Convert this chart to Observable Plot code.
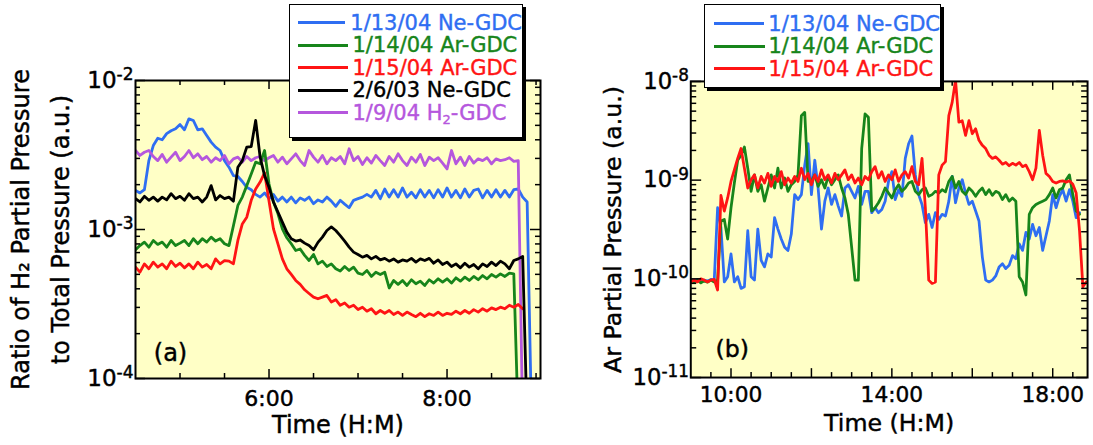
<!DOCTYPE html>
<html><head><meta charset="utf-8">
<script src="https://cdn.jsdelivr.net/npm/d3@7"></script>
<script src="https://cdn.jsdelivr.net/npm/@observablehq/plot@0.6"></script>
<style>
html,body{margin:0;padding:0;background:#fff;}
#wrap{position:relative;width:1093px;height:445px;overflow:hidden;font-family:"DejaVu Sans",sans-serif;}
#pa{position:absolute;left:0;top:0;}
#pb{position:absolute;left:560px;top:0;}
#wrap svg text{stroke:currentColor;stroke-width:0.45px;}
.legend{position:absolute;background:#fff;border:1.5px solid #000;box-shadow:3px 3px 0 #000;box-sizing:border-box;}
.row{display:flex;align-items:center;height:22.5px;font-size:21px;white-space:nowrap;-webkit-text-stroke:0.4px currentColor;}
.sw{height:3px;}
.legend sub{font-size:13px;line-height:0;vertical-align:-4px;}
</style></head><body>
<div id="wrap"><div id="pa"></div><div id="pb"></div><div id="la" class="legend"></div><div id="lb" class="legend"></div></div>
<script>
// ---------- Panel (a): H2 / total pressure ratio, times in minutes after midnight ----------
const timeA = [
270,273,276,279,282,285,288,291,294,297,
300,303,306,309,312,315,318,321,324,327,
330,333,336,339,342,345,348,351,354,357,
360,363,366,369,372,375,378,381,384,387,
390,393,396,399,402,405,408,411,414,417,
420,423,426,429,432,435,438,441,444,447,
450,453,456,459,462,465,468,471,474,477,
480,483,486,489,492,495,498,501,504,507,
510,513,516,519,522,525,528,531,534,537,
540];
const ne0113A = [
1.83e-3,1.76e-3,1.85e-3,2.90e-3,3.66e-3,4.10e-3,4.00e-3,4.40e-3,4.60e-3,4.74e-3,
5.06e-3,4.67e-3,5.53e-3,5.39e-3,4.67e-3,4.74e-3,4.27e-3,3.86e-3,3.57e-3,3.39e-3,
2.90e-3,2.62e-3,2.30e-3,2.27e-3,2.10e-3,1.92e-3,1.85e-3,1.72e-3,1.65e-3,1.76e-3,
1.61e-3,1.72e-3,1.55e-3,1.65e-3,1.53e-3,1.65e-3,1.51e-3,1.63e-3,1.57e-3,1.65e-3,
1.49e-3,1.58e-3,1.53e-3,1.65e-3,1.55e-3,1.43e-3,1.57e-3,1.48e-3,1.40e-3,1.57e-3,
1.61e-3,1.65e-3,1.72e-3,1.65e-3,1.83e-3,1.61e-3,1.87e-3,1.65e-3,1.85e-3,1.65e-3,
1.90e-3,1.65e-3,1.78e-3,1.63e-3,1.85e-3,1.65e-3,1.83e-3,1.63e-3,1.85e-3,1.65e-3,
1.90e-3,1.65e-3,1.83e-3,1.63e-3,1.87e-3,1.65e-3,1.83e-3,1.87e-3,1.63e-3,1.83e-3,
1.65e-3,1.85e-3,1.65e-3,1.83e-3,1.65e-3,1.85e-3,1.87e-3,1.65e-3,1.53e-3,5e-5];
const ar0114A = [
7.3e-4,7.8e-4,8.23e-4,7.61e-4,8.44e-4,7.94e-4,8.23e-4,7.61e-4,8.44e-4,7.8e-4,
8.1e-4,8.44e-4,7.8e-4,8.67e-4,8.02e-4,8.67e-4,8.23e-4,8.89e-4,8.36e-4,8.67e-4,
8.02e-4,7.8e-4,1.06e-3,1.45e-3,1.65e-3,1.97e-3,2.36e-3,2.83e-3,2.76e-3,3.39e-3,
2.02e-3,1.53e-3,1.28e-3,1.01e-3,8.8e-4,8.02e-4,7.23e-4,7.4e-4,6.7e-4,6.19e-4,
6.8e-4,5.88e-4,6.13e-4,5.65e-4,5.88e-4,5.45e-4,5.26e-4,5.65e-4,5.31e-4,5.59e-4,
5.09e-4,4.99e-4,5.31e-4,4.84e-4,5.17e-4,4.99e-4,5.17e-4,4.05e-4,4.55e-4,4.28e-4,
4.55e-4,4.21e-4,4.6e-4,4.32e-4,4.5e-4,4.21e-4,4.6e-4,4.37e-4,4.67e-4,4.43e-4,
4.67e-4,4.37e-4,4.74e-4,4.5e-4,4.79e-4,4.55e-4,4.84e-4,4.6e-4,4.91e-4,4.67e-4,
4.99e-4,4.79e-4,5.04e-4,4.84e-4,5.09e-4,5.04e-4,5e-5];
const ar0115A = [
5.59e-4,5.17e-4,5.88e-4,5.45e-4,6.04e-4,5.59e-4,5.88e-4,5.45e-4,6.13e-4,5.65e-4,
5.94e-4,5.53e-4,5.88e-4,5.45e-4,6.04e-4,5.59e-4,5.82e-4,5.45e-4,6.35e-4,5.88e-4,
6.19e-4,6.13e-4,5.88e-4,8.44e-4,1.09e-3,1.21e-3,1.57e-3,1.87e-3,2.08e-3,2.40e-3,
1.55e-3,1.01e-3,8.02e-4,6.35e-4,5.45e-4,4.99e-4,4.55e-4,4.28e-4,3.94e-4,3.72e-4,
3.52e-4,3.43e-4,3.52e-4,3.61e-4,3.26e-4,3.38e-4,3.1e-4,3.21e-4,3.01e-4,3.1e-4,
2.9e-4,3.01e-4,2.83e-4,2.94e-4,2.72e-4,2.86e-4,2.74e-4,2.86e-4,2.69e-4,2.79e-4,
2.65e-4,2.79e-4,2.69e-4,2.6e-4,2.74e-4,2.6e-4,2.72e-4,2.65e-4,2.79e-4,2.65e-4,
2.74e-4,2.69e-4,2.83e-4,2.72e-4,2.86e-4,2.74e-4,2.9e-4,2.79e-4,2.94e-4,2.83e-4,
2.98e-4,2.9e-4,3.01e-4,2.94e-4,3.1e-4,3.01e-4,3.14e-4,2.94e-4];
const ne0206A = [
1.61e-3,1.53e-3,1.67e-3,1.57e-3,1.65e-3,1.55e-3,1.65e-3,1.58e-3,1.74e-3,1.61e-3,
1.67e-3,1.57e-3,1.74e-3,1.61e-3,1.65e-3,1.53e-3,1.65e-3,1.97e-3,1.58e-3,1.69e-3,
1.61e-3,1.65e-3,1.55e-3,2.62e-3,2.90e-3,3.57e-3,3.60e-3,5.40e-3,3.06e-3,2.30e-3,
1.92e-3,1.53e-3,1.31e-3,1.12e-3,9.6e-4,8.67e-4,8.36e-4,8.5e-4,8.1e-4,7.8e-4,
7.3e-4,8.2e-4,8.89e-4,9.85e-4,1.04e-3,9.85e-4,9.1e-4,8.36e-4,7.61e-4,7.05e-4,
6.8e-4,6.52e-4,6.7e-4,6.35e-4,6.6e-4,6.25e-4,6.4e-4,6.13e-4,6.35e-4,6.04e-4,
6.25e-4,6.13e-4,6.4e-4,6.04e-4,6.35e-4,6.19e-4,6.4e-4,5.94e-4,6.25e-4,5.82e-4,
6.04e-4,5.65e-4,5.88e-4,5.53e-4,5.94e-4,5.59e-4,5.82e-4,5.45e-4,5.88e-4,5.65e-4,
6.04e-4,5.73e-4,6.13e-4,5.88e-4,5.45e-4,6.19e-4,6.35e-4,6.6e-4,5e-5];
const h2A = [
3.39e-3,3.14e-3,3.30e-3,3.39e-3,3.09e-3,2.90e-3,3.19e-3,2.83e-3,3.06e-3,3.30e-3,
2.90e-3,3.09e-3,3.39e-3,3.03e-3,3.22e-3,2.94e-3,3.09e-3,2.83e-3,3.03e-3,2.90e-3,
3.14e-3,2.76e-3,2.98e-3,3.06e-3,2.83e-3,3.09e-3,2.90e-3,3.03e-3,3.09e-3,2.90e-3,
3.03e-3,3.14e-3,2.83e-3,3.06e-3,2.76e-3,2.98e-3,3.22e-3,2.90e-3,2.69e-3,3.39e-3,
3.06e-3,2.83e-3,3.14e-3,2.76e-3,3.03e-3,2.90e-3,3.09e-3,2.76e-3,3.48e-3,2.90e-3,
3.09e-3,2.73e-3,3.03e-3,2.79e-3,3.14e-3,2.90e-3,2.69e-3,3.09e-3,2.83e-3,3.22e-3,
2.90e-3,2.69e-3,3.06e-3,2.83e-3,3.19e-3,2.69e-3,3.06e-3,2.90e-3,3.03e-3,2.79e-3,
2.55e-3,3.39e-3,2.76e-3,3.06e-3,2.69e-3,3.09e-3,2.79e-3,2.98e-3,2.90e-3,3.03e-3,
2.76e-3,2.98e-3,2.90e-3,2.94e-3,3.03e-3,2.87e-3,2.90e-3,5e-5];
const namesA = ["1/13/04 Ne-GDC","1/14/04 Ar-GDC","1/15/04 Ar-GDC","2/6/03 Ne-GDC","1/9/04 H<sub>2</sub>-GDC"];
const xTickLabelsA = [360, 480];
const xMinorA = [300, 330, 390, 420, 450, 510, 540];
const yTicksA = [1e-4, 1e-3, 1e-2];

// ---------- Panel (b): Ar partial pressure, times in minutes after midnight ----------
const timeB = [
540,545,550,555,560,565,570,575,580,585,
590,595,600,605,610,615,620,625,630,635,
640,645,650,655,660,665,670,675,680,685,
690,695,700,705,710,715,720,725,730,735,
740,745,750,755,760,765,770,775,780,785,
790,795,800,805,810,815,820,825,830,835,
840,845,850,855,860,865,870,875,880,885,
890,895,900,905,910,915,920,925,930,935,
940,945,950,955,960,965,970,975,980,985,
990,995,1000,1005,1010,1015,1020,1025,1030,1035,
1040,1045,1050,1055,1060,1065,1070,1075,1080,1085,
1090,1095,1100,1105,1110,1115,1120,1125,1130];
const ne0113B = [
9.7e-11,9.55e-11,9.85e-11,9.3e-11,9.7e-11,9.5e-11,9.85e-11,9.7e-11,5.25e-10,3.31e-10,
9.3e-11,1.05e-10,1.79e-10,9.3e-11,1.05e-10,8.0e-11,8.32e-11,3.07e-10,1.05e-10,9.7e-11,
3.19e-10,1.54e-10,1.32e-10,1.79e-10,1.66e-10,4.17e-10,3.19e-10,2.53e-10,2.09e-10,1.94e-10,
2.84e-10,7.13e-10,6.35e-10,7.13e-10,1.42e-9,2.34e-9,7.13e-10,1.59e-9,8.32e-10,3.19e-10,
6.12e-10,8.32e-10,5.67e-10,7.13e-10,5.46e-10,4.33e-10,8.32e-10,8.98e-10,7.7e-10,6.6e-10,
8.65e-10,5.67e-10,7.7e-10,7.7e-10,4.68e-10,5.25e-10,4.68e-10,5.05e-10,6.12e-10,9.7e-10,
1.22e-9,6.35e-10,8.0e-10,6.86e-10,1.66e-9,2.34e-9,2.8e-9,1.13e-9,7.13e-10,5.67e-10,
3.71e-10,4.5e-10,3.31e-10,4.68e-10,4.0e-10,4.5e-10,4.33e-10,6.12e-10,1.09e-9,5.9e-10,
8.32e-10,1.01e-9,7.4e-10,5.67e-10,6.12e-10,4.86e-10,3.86e-10,1.66e-10,9.7e-11,9.3e-11,
9.7e-11,1.07e-10,1.32e-10,1.42e-10,1.27e-10,1.37e-10,1.72e-10,1.60e-10,2.26e-10,1.94e-10,
2.95e-10,2.53e-10,3.57e-10,2.73e-10,3.31e-10,1.94e-10,2.73e-10,3.86e-10,7.13e-10,5.25e-10,
6.86e-10,8.0e-10,6.12e-10,8.0e-10,6.12e-10,4.17e-10,4.68e-10];
const ar0114B = [
9.7e-11,9.3e-11,9.7e-11,9.1e-11,9.55e-11,9.25e-11,9.7e-11,9.3e-11,9.7e-11,3.86e-10,
4.0e-10,2.53e-10,5.25e-10,9.34e-10,1.59e-9,1.79e-9,2.17e-9,1.32e-9,7.7e-10,1.13e-9,
7.7e-10,8.98e-10,6.12e-10,8.32e-10,1.13e-9,8.32e-10,1.32e-9,8.32e-10,1.05e-9,7.7e-10,
8.98e-10,9.7e-10,1.13e-9,4.5e-9,4.86e-9,9.7e-10,9.7e-10,1.13e-9,8.65e-10,1.01e-9,
8.32e-10,1.09e-9,8.98e-10,1.01e-9,1.13e-9,8.32e-10,6.6e-10,4.5e-10,2.09e-10,9.7e-11,
9.7e-11,2.09e-9,4.68e-9,4.33e-9,4.86e-10,5.25e-10,5.9e-10,6.86e-10,8.32e-10,7.4e-10,
6.6e-10,8.0e-10,8.98e-10,7.7e-10,8.32e-10,9.34e-10,9.7e-10,7.7e-10,7.13e-10,8.0e-10,
8.32e-10,6.86e-10,7.13e-10,7.7e-10,7.4e-10,8.0e-10,7.6e-10,9.7e-10,1.09e-9,8.32e-10,
9.7e-10,7.7e-10,7.13e-10,8.32e-10,7.7e-10,6.86e-10,7.7e-10,8.32e-10,7.13e-10,8.0e-10,
7.0e-10,7.7e-10,7.4e-10,6.35e-10,7.13e-10,6.12e-10,6.6e-10,6.12e-10,1.05e-10,9.3e-11,
6.86e-11,4.5e-10,5.25e-10,5.67e-10,5.9e-10,6.12e-10,6.35e-10,7.13e-10,8.32e-10,6.6e-10,
8.0e-10,8.32e-10,1.01e-9,1.13e-9,7.13e-10,4.86e-10,4.5e-10];
const ar0115B = [
9.3e-11,9.7e-11,9.3e-11,1.0e-10,9.7e-11,9.3e-11,9.7e-11,9.85e-11,7.7e-11,7.0e-10,
4.86e-10,6.6e-10,9.7e-10,1.27e-9,1.66e-9,2.09e-9,1.32e-9,8.32e-10,1.01e-9,1.13e-9,
8.32e-10,1.09e-9,9.34e-10,1.17e-9,8.65e-10,1.09e-9,9.7e-10,1.22e-9,8.98e-10,1.05e-9,
9.34e-10,1.09e-9,9.7e-10,1.32e-9,1.01e-9,1.17e-9,8.98e-10,1.13e-9,9.7e-10,1.27e-9,
1.01e-9,1.13e-9,9.34e-10,1.17e-9,1.01e-9,1.13e-9,1.27e-9,1.01e-9,1.13e-9,9.34e-10,
1.05e-9,8.98e-10,1.09e-9,1.01e-9,1.22e-9,1.37e-9,1.05e-9,1.22e-9,9.7e-10,1.13e-9,
1.01e-9,1.27e-9,9.7e-10,1.13e-9,1.22e-9,1.05e-9,1.37e-9,9.7e-10,8.98e-10,1.66e-9,
5.25e-10,9.7e-11,8.98e-11,9.3e-11,1.13e-9,1.42e-9,1.54e-9,4.5e-9,6.13e-9,1.03e-8,
3.86e-9,4.0e-9,2.84e-9,4.0e-9,2.95e-9,3.31e-9,2.53e-9,2.25e-9,2.09e-9,1.79e-9,
1.66e-9,1.72e-9,1.59e-9,1.45e-9,1.51e-9,1.40e-9,1.48e-9,1.42e-9,1.51e-9,1.37e-9,
1.42e-9,1.22e-9,1.01e-9,1.32e-9,3.19e-9,1.79e-9,1.17e-9,1.09e-9,9.7e-10,9.34e-10,
9.7e-10,9.85e-10,9.55e-10,9.85e-10,9.1e-10,7.4e-10,3.07e-10,8.32e-11,9.3e-11];
const namesB = ["1/13/04 Ne-GDC","1/14/04 Ar-GDC","1/15/04 Ar-GDC"];
const xTickLabelsB = [600, 840, 1080];
const xMajorB = [600, 720, 840, 960, 1080];
const xMinorB = [570, 630, 660, 690, 750, 780, 810, 870, 900, 930, 990, 1020, 1050, 1110];
const yTicksB = [1e-11, 1e-10, 1e-9, 1e-8];

// ---------- styling ----------
const C = {blue: "#2f6ef2", green: "#17851b", red: "#ff1414", black: "#000000", purple: "#b557dd"};
const colorsA = [C.blue, C.green, C.red, C.black, C.purple];
const colorsB = [C.blue, C.green, C.red];
const BG = "#ffffc6";
const FONT = "DejaVu Sans";

const rows = (times, vals) => vals.map((v, i) => ({t: times[i], v}));
const fmtHour = m => `${m / 60}:00`;
const fmtPow = d => "10^" + Math.round(Math.log10(d));
const lineOpts = c => ({x: "t", y: "v", stroke: c, strokeWidth: 2.8, strokeLinejoin: "round", clip: true});
const txt = {text: d => d, fontSize: 24, textAnchor: "middle", lineAnchor: "middle"};

function tickMarks(H, W, xMajor, xMinor, yMajor, yMinor, maj, min, ymaj, ymin) {
  const st = {stroke: "black", strokeWidth: 1.5};
  return [
    Plot.ruleX(xMinor, {x: d => d, insetTop: H - min, ...st}),
    Plot.ruleX(xMinor, {x: d => d, insetBottom: H - min, ...st}),
    Plot.ruleX(xMajor, {x: d => d, insetTop: H - maj, ...st}),
    Plot.ruleX(xMajor, {x: d => d, insetBottom: H - maj, ...st}),
    Plot.ruleY(yMinor, {y: d => d, insetRight: W - ymin, ...st}),
    Plot.ruleY(yMinor, {y: d => d, insetLeft: W - ymin, ...st}),
    Plot.ruleY(yMajor, {y: d => d, insetRight: W - ymaj, ...st}),
    Plot.ruleY(yMajor, {y: d => d, insetLeft: W - ymaj, ...st})
  ];
}
function logMinor(domain, majors) {
  return d3.scaleLog().domain(domain).ticks().filter(v => !majors.some(m => Math.abs(m - v) / m < 1e-6));
}
function supLabels(svg) {
  svg.querySelectorAll('g[aria-label="y-axis tick label"] text').forEach(t => {
    const s = t.textContent, i = s.indexOf("^");
    if (i < 0) return;
    t.textContent = s.slice(0, i);
    const ts = document.createElementNS("http://www.w3.org/2000/svg", "tspan");
    ts.setAttribute("dy", "-8");
    ts.setAttribute("font-size", "17");
    ts.textContent = s.slice(i + 1);
    t.appendChild(ts);
  });
}

// ---------- panel (a) ----------
const WA = 560, HA = 445, mlA = 135, mrA = 20, mtA = 80, mbA = 67;
const iwA = WA - mlA - mrA, ihA = HA - mtA - mbA;
const yDomA = [1e-4, 1e-2];
const plotA = Plot.plot({
  width: WA, height: HA, marginLeft: mlA, marginRight: mrA, marginTop: mtA, marginBottom: mbA,
  x: {domain: [270, 543]},
  y: {type: "log", domain: yDomA},
  style: {fontFamily: FONT, fontSize: "22px", background: "transparent", color: "black", overflow: "visible"},
  marks: [
    Plot.frame({fill: BG, stroke: "none"}),
    Plot.line(rows(timeA, ne0113A), lineOpts(colorsA[0])),
    Plot.line(rows(timeA, h2A), lineOpts(colorsA[4])),
    Plot.line(rows(timeA, ar0114A), lineOpts(colorsA[1])),
    Plot.line(rows(timeA, ar0115A), lineOpts(colorsA[2])),
    Plot.line(rows(timeA, ne0206A), lineOpts(colorsA[3])),
    ...tickMarks(ihA, iwA, xTickLabelsA, xMinorA, yTicksA, logMinor(yDomA, yTicksA), 9, 5, 10, 5),
    Plot.frame({stroke: "black", strokeWidth: 2}),
    Plot.axisX({ticks: xTickLabelsA, tickFormat: fmtHour, tickSize: 0, tickPadding: 12, label: null}),
    Plot.axisY({ticks: yTicksA, tickFormat: fmtPow, tickSize: 0, tickPadding: 2, label: null, fontSize: 23}),
    Plot.text(["Time (H:M)"], {...txt, frameAnchor: "bottom", dy: 47}),
    Plot.text(["Ratio of H\u2082 Partial Pressure"], {...txt, frameAnchor: "left", dx: -114, rotate: -90}),
    Plot.text(["to Total Pressure (a.u.)"], {...txt, frameAnchor: "left", dx: -74, rotate: -90}),
    Plot.text(["(a)"], {...txt, frameAnchor: "bottom-left", dx: 35, dy: -25})
  ]
});
supLabels(plotA);
document.getElementById("pa").appendChild(plotA);

// ---------- panel (b) ----------
const WB = 540, HB = 445, mlB = 132, mrB = 6, mtB = 82, mbB = 63;
const iwB = WB - mlB - mrB, ihB = HB - mtB - mbB;
const yDomB = [1e-11, 1e-8];
const plotB = Plot.plot({
  width: WB, height: HB, marginLeft: mlB, marginRight: mrB, marginTop: mtB, marginBottom: mbB,
  x: {domain: [540, 1132]},
  y: {type: "log", domain: yDomB},
  style: {fontFamily: FONT, fontSize: "22px", background: "transparent", color: "black", overflow: "visible"},
  marks: [
    Plot.frame({fill: BG, stroke: "none"}),
    Plot.line(rows(timeB, ne0113B), lineOpts(colorsB[0])),
    Plot.line(rows(timeB, ar0114B), lineOpts(colorsB[1])),
    Plot.line(rows(timeB, ar0115B), lineOpts(colorsB[2])),
    ...tickMarks(ihB, iwB, xMajorB, xMinorB, yTicksB, logMinor(yDomB, yTicksB), 9, 5, 11, 6),
    Plot.frame({stroke: "black", strokeWidth: 2}),
    Plot.axisX({ticks: xTickLabelsB, tickFormat: fmtHour, tickSize: 0, tickPadding: 9, label: null}),
    Plot.axisY({ticks: yTicksB, tickFormat: fmtPow, tickSize: 0, tickPadding: 2, label: null, fontSize: 23}),
    Plot.text(["Time (H:M)"], {...txt, frameAnchor: "bottom", dy: 46}),
    Plot.text(["Ar Partial Pressure (a.u.)"], {...txt, frameAnchor: "left", dx: -78, rotate: -90}),
    Plot.text(["(b)"], {...txt, frameAnchor: "bottom-left", dx: 42, dy: -29})
  ]
});
supLabels(plotB);
document.getElementById("pb").appendChild(plotB);

// ---------- legends ----------
function legend(el, box, names, colors, padTop, padLeft, swW, gap) {
  Object.assign(el.style, {left: box[0] + "px", top: box[1] + "px", width: box[2] + "px", height: box[3] + "px",
    paddingTop: padTop + "px", paddingLeft: padLeft + "px"});
  names.forEach((n, i) => {
    const r = document.createElement("div");
    r.className = "row";
    r.innerHTML = `<span class="sw" style="width:${swW}px;background:${colors[i]};margin-right:${gap}px"></span><span style="color:${colors[i]}">${n}</span>`;
    el.appendChild(r);
  });
}
legend(document.getElementById("la"), [289, 4, 234, 134], namesA, colorsA, 6.5, 7.5, 50, 5);
legend(document.getElementById("lb"), [704, 4, 237, 84], namesB, colorsB, 7.5, 8.5, 51, 4);
</script></body></html>
